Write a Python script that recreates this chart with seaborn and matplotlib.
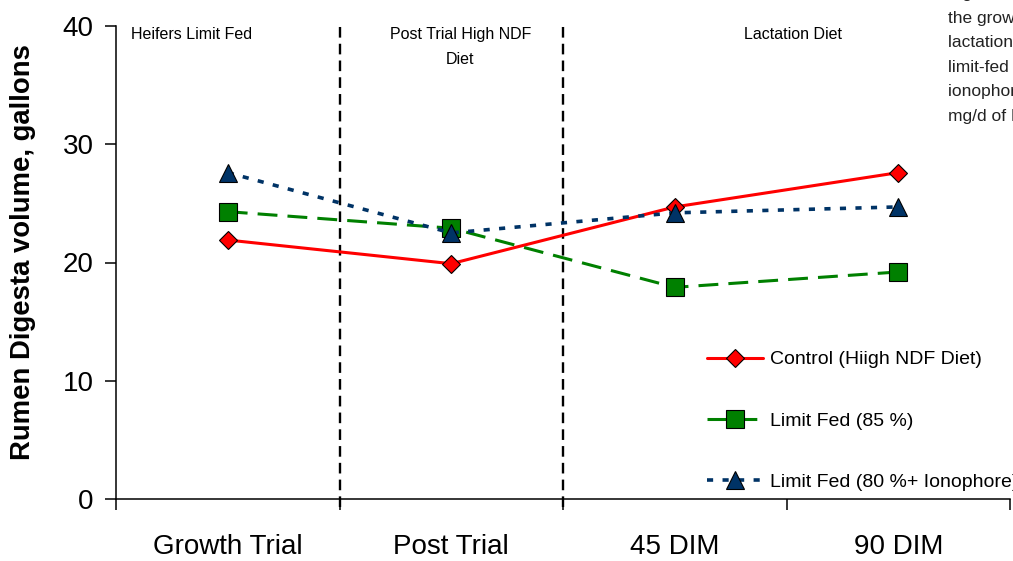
import matplotlib
matplotlib.use("Agg")
import matplotlib.pyplot as plt
import seaborn as sns
import pandas as pd

# ---- data ----
stages = ["Growth Trial", "Post Trial", "45 DIM", "90 DIM"]
control = [21.9, 19.9, 24.7, 27.6]
limit85 = [24.3, 22.9, 17.9, 19.2]
limit80_iono = [27.6, 22.5, 24.2, 24.7]
series_names = ["Control (Hiigh NDF Diet)", "Limit Fed (85 %)", "Limit Fed (80 %+ Ionophore)"]
y_ticks = [0, 10, 20, 30, 40]
phase_labels = ["Heifers Limit Fed", "Post Trial High NDF\nDiet", "Lactation Diet"]
phase_x = [-0.16, 1.04, 2.53]
phase_bounds = [0.5, 1.5]
caption_lines = ["Figure 2. Rumen digesta volume of heifers during",
                 "the growth trial, post trial and early",
                 "lactation for heifers fed a control diet or",
                 "limit-fed with or without an",
                 "ionophore (monensin at 200",
                 "mg/d of DM intake)."]

sns.set_style("ticks")
plt.rcParams["font.family"] = ["Liberation Sans", "DejaVu Sans"]
plt.rcParams["text.color"] = "black"
plt.rcParams["axes.labelcolor"] = "black"
plt.rcParams["xtick.color"] = "black"
plt.rcParams["ytick.color"] = "black"

df = pd.DataFrame({
    "stage": stages * 3,
    "volume": control + limit85 + limit80_iono,
    "series": [n for n in series_names for _ in stages],
})

W, H = 1013, 561
fig = plt.figure(figsize=(W / 100, H / 100), dpi=100)
ax = fig.add_axes([116 / W, (H - 499) / H, (1010 - 116) / W, (499 - 26) / H])

colors = ["#ff0000", "#008000", "#003366"]
markers = ["D", "s", "^"]
msizes = [9.2, 12.5, 13]
lws = [2.2, 2.2, 2.6]
styles = ["-", (0, (6.5, 3.3)), (0, (1.7, 2.6))]

for i, name in enumerate(series_names):
    sub = df[df["series"] == name]
    sns.lineplot(data=sub, x="stage", y="volume", ax=ax, sort=False,
                 errorbar=None, color=colors[i], marker=markers[i],
                 markersize=msizes[i], markeredgecolor="black",
                 markeredgewidth=0.8, linewidth=lws[i], linestyle=styles[i],
                 label=name, legend=False)

# phase separators
for xb in phase_bounds:
    ax.plot([xb, xb], [-0.7, 40.4], color="black", lw=1.7,
            linestyle=(0, (4.5, 2.6)), clip_on=False, zorder=1)

ax.set_xlim(-0.5, 3.5)
ax.set_ylim(0, 40)
ax.set_yticks(y_ticks)
ax.set_xticks(range(len(stages)))
ax.set_xticklabels(stages)
ax.set_xticks([-0.5, 0.5, 1.5, 2.5, 3.5], minor=True)
ax.tick_params(axis="x", which="major", length=0, pad=25, labelsize=20)
ax.tick_params(axis="x", which="minor", length=8, width=1.1, direction="out", color="black")
ax.tick_params(axis="y", which="major", length=8, width=1.1, direction="out",
               pad=8, labelsize=20, color="black")
for s in ["top", "right"]:
    ax.spines[s].set_visible(False)
for s in ["left", "bottom"]:
    ax.spines[s].set_color("black")
    ax.spines[s].set_linewidth(1.1)

ax.set_xlabel("")
ax.set_ylabel("Rumen Digesta volume, gallons", fontsize=19.8, fontweight="bold")
ax.yaxis.set_label_coords((36 - 116) / 894, 0.522)

for lab, xp in zip(phase_labels, phase_x):
    ax.text(xp, 39.9, lab, ha="center", va="top", fontsize=11.5,
            linespacing=1.85)

handles, labels = ax.get_legend_handles_labels()
leg = ax.legend(handles, labels, loc="center left",
                bbox_to_anchor=(707 / W, 1 - 421 / H), bbox_transform=fig.transFigure,
                frameon=False, borderpad=0, borderaxespad=0, handlelength=2.9,
                handletextpad=0.36, labelspacing=2.25, numpoints=1,
                prop={"size": 14})

for k, line in enumerate(caption_lines):
    fig.text(948 / W, 1 - (-6.5 + 24.5 * k) / H, line, ha="left", va="center",
             fontsize=12.5, color="#222222")

fig.savefig("out.png", dpi=100)
